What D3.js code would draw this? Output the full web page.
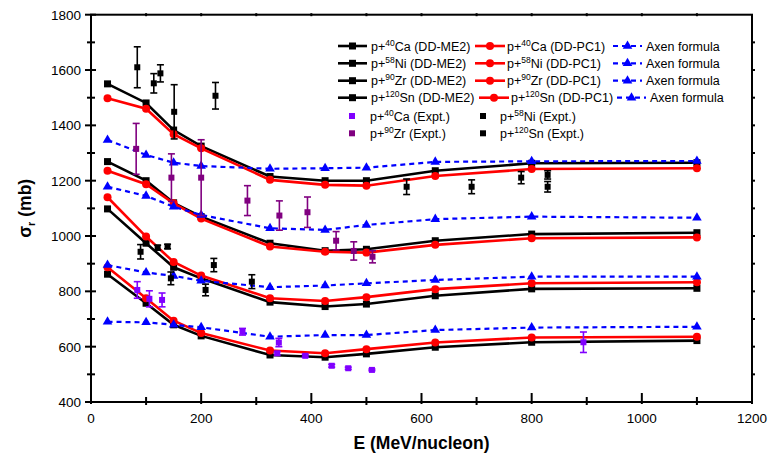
<!DOCTYPE html>
<html>
<head>
<meta charset="utf-8">
<script src="https://cdn.jsdelivr.net/npm/d3@7"></script>
<style>
  body { margin: 0; background: #fff; }
  svg { font-family: "Liberation Sans", Arial, sans-serif; }
</style>
</head>
<body>
<div id="chart"></div>
<script>
// model energies (MeV/nucleon)
const energies = [30, 100, 150, 200, 325, 425, 500, 625, 800, 1100];

// reaction cross sections (mb)
const caME2 = [862, 757, 679, 639, 570, 562, 574, 598, 616, 622];
const caPC1 = [887, 775, 694, 649, 586, 576, 591, 615, 633, 636];
const caAxen = [690, 688, 679, 670, 636, 642, 642, 660, 669, 672];
const niME2 = [1098, 974, 887, 847, 761, 745, 754, 784, 809, 811];
const niPC1 = [1140, 998, 906, 857, 775, 765, 779, 808, 829, 833];
const niAxen = [895, 868, 856, 838, 815, 821, 829, 841, 853, 853];
const zrME2 = [1269, 1200, 1120, 1070, 974, 947, 952, 983, 1007, 1012];
const zrPC1 = [1236, 1187, 1118, 1063, 962, 943, 940, 968, 992, 995];
const zrAxen = [1178, 1145, 1106, 1076, 1028, 1022, 1040, 1061, 1070, 1066];
const snME2 = [1550, 1481, 1383, 1325, 1215, 1200, 1200, 1236, 1263, 1265];
const snPC1 = [1498, 1460, 1368, 1317, 1203, 1185, 1182, 1217, 1242, 1245];
const snAxen = [1347, 1293, 1265, 1253, 1243, 1245, 1247, 1268, 1270, 1271];

// experimental data: energy, value, error
const caExptE = [84, 106, 129, 275, 341, 338, 389, 437, 467, 510, 894];
const caExptV = [805, 773, 769, 654, 615, 576, 567, 531, 522, 516, 616];
const caExptErr = [30, 29, 25, 12, 15, 6, 5, 5, 4, 3, 37];
const niExptE = [90, 121, 139, 145, 208, 223, 292];
const niExptV = [943, 958, 962, 847, 805, 895, 835];
const niExptErr = [26, 9, 8, 23, 21, 24, 25];
const zrExptE = [82, 146, 200, 284, 342, 393, 445, 477, 511];
const zrExptV = [1315, 1211, 1211, 1128, 1074, 1086, 983, 946, 925];
const zrExptErr = [92, 86, 137, 54, 53, 55, 33, 33, 22];
const snExptE = [84, 114, 126, 151, 226, 573, 691, 781, 829, 829];
const snExptV = [1610, 1552, 1588, 1449, 1507, 1178, 1178, 1211, 1221, 1178];
const snExptErr = [74, 35, 31, 98, 48, 28, 25, 22, 15, 19];

const nuclei = ['Ca', 'Ni', 'Zr', 'Sn'];
const masses = ['40', '58', '90', '120'];

const width = 772, height = 460;
const margin = { top: 14.7, right: 20, bottom: 58, left: 91 };

const svg = d3.select('#chart').append('svg')
  .attr('width', width)
  .attr('height', height);

const x = d3.scaleLinear().domain([0, 1200]).range([margin.left, width - margin.right]);
const y = d3.scaleLinear().domain([400, 1800]).range([height - margin.bottom, margin.top]);

const xMajor = d3.range(0, 1201, 200);
const xMinor = d3.range(100, 1200, 200);
const yMajor = d3.range(400, 1801, 200);
const yMinor = d3.range(500, 1800, 200);

// frame
svg.append('rect')
  .attr('x', x(0)).attr('y', y(1800))
  .attr('width', x(1200) - x(0)).attr('height', y(400) - y(1800))
  .attr('fill', 'none').attr('stroke', '#000').attr('stroke-width', 2);

function tickLines(g, vals, pos, a, b, horiz) {
  g.selectAll(null).data(vals).enter().append('line')
    .attr('x1', d => horiz ? pos(d) : a)
    .attr('x2', d => horiz ? pos(d) : b)
    .attr('y1', d => horiz ? a : pos(d))
    .attr('y2', d => horiz ? b : pos(d))
    .attr('stroke', '#000').attr('stroke-width', 2);
}
const ticks = svg.append('g');
const x0 = x(0), x1 = x(1200), y0 = y(400), y1 = y(1800);
tickLines(ticks, yMajor, y, x0 - 6, x0 + 5, false);
tickLines(ticks, yMinor, y, x0 - 4, x0 + 4, false);
tickLines(ticks, xMajor, x, y0 - 9, y0 + 2, true);
tickLines(ticks, xMinor, x, y0 - 5, y0 + 3, true);
tickLines(ticks, d3.range(100, 1200, 100), x, y1 - 1.5, y1 + 1.5, true);
tickLines(ticks, d3.range(500, 1800, 100), y, x1, x1 + 3, false);

svg.append('g').selectAll('text').data(yMajor).enter().append('text')
  .attr('x', x0 - 10).attr('y', d => y(d) + 5)
  .attr('text-anchor', 'end').attr('font-size', 13.5)
  .text(d => d);
svg.append('g').selectAll('text').data(xMajor).enter().append('text')
  .attr('x', d => x(d)).attr('y', y0 + 21)
  .attr('text-anchor', 'middle').attr('font-size', 13.5)
  .text(d => d);

// axis titles
svg.append('text')
  .attr('x', (x0 + x1) / 2).attr('y', y0 + 47)
  .attr('text-anchor', 'middle').attr('font-size', 17.5).attr('font-weight', 'bold')
  .text('E (MeV/nucleon)');
const yt = svg.append('text')
  .attr('transform', `translate(31, ${(y0 + y1) / 2}) rotate(-90)`)
  .attr('text-anchor', 'middle').attr('font-size', 17.5).attr('font-weight', 'bold');
yt.append('tspan').text('σ');
yt.append('tspan').attr('font-size', 11).attr('dy', 4).text('r');
yt.append('tspan').attr('dy', -4).text(' (mb)');

// model series
const series = [
  { vals: caME2, kind: 'me2' }, { vals: niME2, kind: 'me2' },
  { vals: zrME2, kind: 'me2' }, { vals: snME2, kind: 'me2' },
  { vals: caPC1, kind: 'pc1' }, { vals: niPC1, kind: 'pc1' },
  { vals: zrPC1, kind: 'pc1' }, { vals: snPC1, kind: 'pc1' },
  { vals: caAxen, kind: 'axen' }, { vals: niAxen, kind: 'axen' },
  { vals: zrAxen, kind: 'axen' }, { vals: snAxen, kind: 'axen' }
];
const styles = {
  me2: { color: '#000000', width: 2.6, dash: null },
  pc1: { color: '#ff0000', width: 2.6, dash: null },
  axen: { color: '#0000ff', width: 2.2, dash: '5,4' }
};

const line = d3.line().x(d => x(d[0])).y(d => y(d[1]));

function marker(g, kind, cx, cy) {
  const c = styles[kind].color;
  if (kind === 'me2') {
    g.append('rect').attr('x', cx - 3.5).attr('y', cy - 3.5)
      .attr('width', 7).attr('height', 7).attr('fill', c);
  } else if (kind === 'pc1') {
    g.append('circle').attr('cx', cx).attr('cy', cy).attr('r', 4).attr('fill', c);
  } else {
    g.append('path').attr('d', d3.symbol(d3.symbolTriangle, 40)())
      .attr('transform', `translate(${cx},${cy})`).attr('fill', c);
  }
}

series.forEach(s => {
  const st = styles[s.kind];
  const pts = energies.map((e, i) => [e, s.vals[i]]);
  const g = svg.append('g');
  g.append('path').datum(pts)
    .attr('d', line).attr('fill', 'none')
    .attr('stroke', st.color).attr('stroke-width', st.width)
    .attr('stroke-dasharray', st.dash);
  pts.forEach(p => marker(g, s.kind, x(p[0]), y(p[1])));
});

// experimental points
const expt = [
  { e: caExptE, v: caExptV, err: caExptErr, color: '#8000ff' },
  { e: niExptE, v: niExptV, err: niExptErr, color: '#000000' },
  { e: zrExptE, v: zrExptV, err: zrExptErr, color: '#800080' },
  { e: snExptE, v: snExptV, err: snExptErr, color: '#000000' }
];
expt.forEach(s => {
  const g = svg.append('g');
  s.e.forEach((e, i) => {
    const cx = x(e), top = y(s.v[i] + s.err[i]), bot = y(s.v[i] - s.err[i]);
    g.append('line').attr('x1', cx).attr('x2', cx).attr('y1', top).attr('y2', bot)
      .attr('stroke', s.color).attr('stroke-width', 1.6);
    [top, bot].forEach(yy => g.append('line')
      .attr('x1', cx - 3.5).attr('x2', cx + 3.5).attr('y1', yy).attr('y2', yy)
      .attr('stroke', s.color).attr('stroke-width', 1.6));
    g.append('rect').attr('x', cx - 3).attr('y', y(s.v[i]) - 3)
      .attr('width', 6).attr('height', 6).attr('fill', s.color);
  });
});

// legend
const legend = svg.append('g').attr('font-size', 12.5);
const rowY = [46, 63.3, 80.7, 97.7];
function label(g, tx, ty, mass, rest) {
  const t = g.append('text').attr('x', tx).attr('y', ty + 4.5);
  t.append('tspan').text('p+');
  t.append('tspan').attr('font-size', 8.5).attr('dy', -5).text(mass);
  t.append('tspan').attr('dy', 5).text(rest);
}
nuclei.forEach((n, i) => {
  const ry = rowY[i];
  const shift = i === 3 ? 4 : 0;
  const cols = [
    { kind: 'me2', x1: 338, x2: 367, tx: 371, text: n + ' (DD-ME2)' },
    { kind: 'pc1', x1: 475 + shift, x2: 505 + shift, tx: 507 + shift, text: n + ' (DD-PC1)' },
    { kind: 'axen', x1: 613 + shift, x2: 642 + shift, tx: 646 + shift, text: null }
  ];
  cols.forEach(c => {
    const st = styles[c.kind];
    legend.append('line').attr('x1', c.x1).attr('x2', c.x2).attr('y1', ry).attr('y2', ry)
      .attr('stroke', st.color).attr('stroke-width', st.width).attr('stroke-dasharray', st.dash);
    marker(legend, c.kind, (c.x1 + c.x2) / 2, ry);
    if (c.text) label(legend, c.tx, ry, masses[i], c.text);
    else legend.append('text').attr('x', c.tx).attr('y', ry + 4.5).text('Axen formula');
  });
});
const exptLegend = [
  { i: 0, mx: 352, tx: 370, ry: 116 },
  { i: 1, mx: 483, tx: 500, ry: 116 },
  { i: 2, mx: 352, tx: 370, ry: 133.3 },
  { i: 3, mx: 483, tx: 500, ry: 133.3 }
];
exptLegend.forEach(l => {
  legend.append('rect').attr('x', l.mx - 3).attr('y', l.ry - 3)
    .attr('width', 6).attr('height', 6).attr('fill', expt[l.i].color);
  label(legend, l.tx, l.ry, masses[l.i], nuclei[l.i] + ' (Expt.)');
});
</script>
</body>
</html>
